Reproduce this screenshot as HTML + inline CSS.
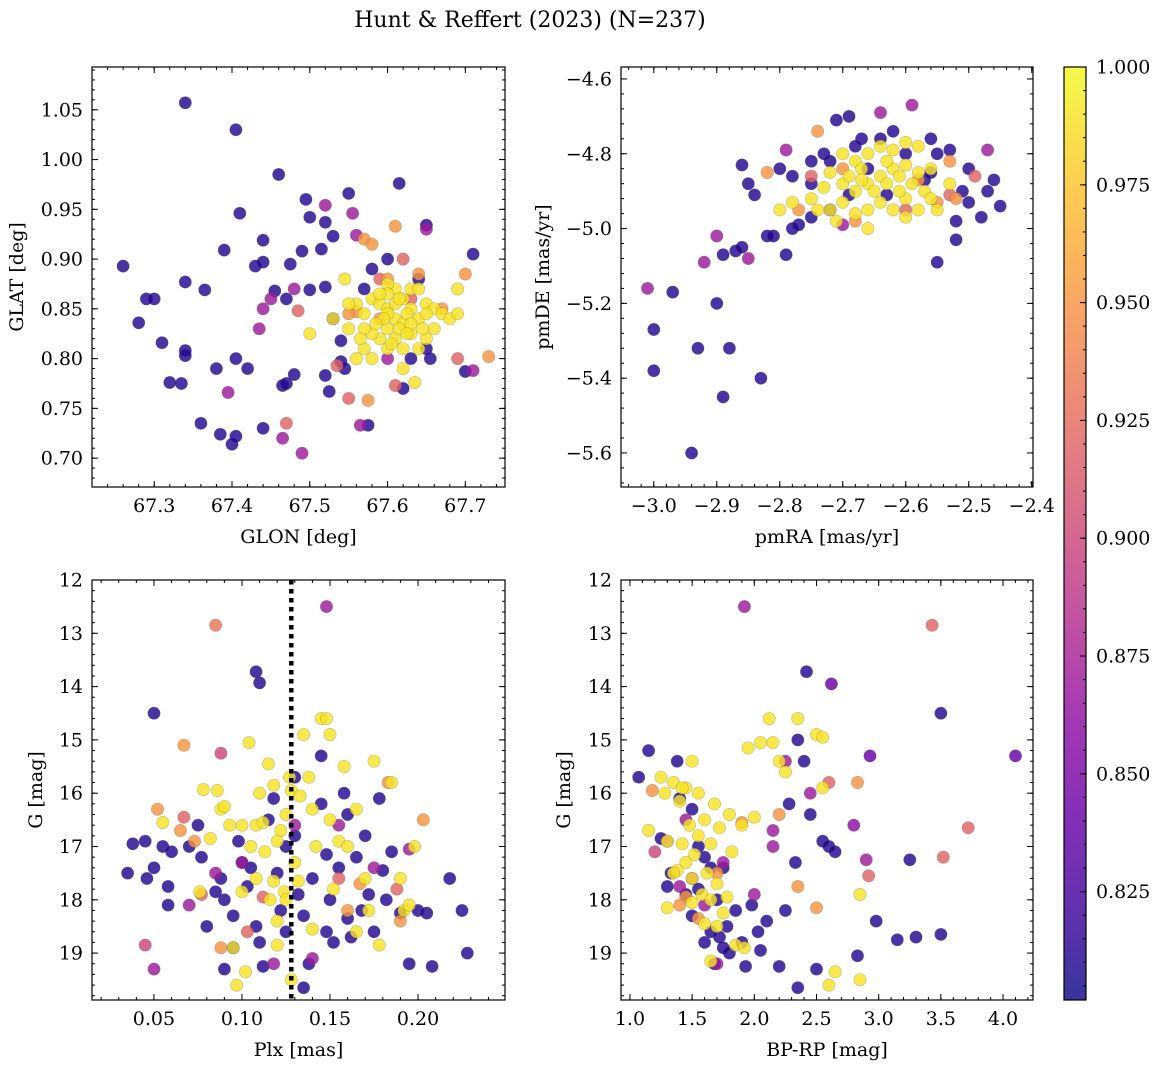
<!DOCTYPE html>
<html><head><meta charset="utf-8"><style>
html,body{margin:0;padding:0;background:#fff;}
svg{display:block;font-family:"DejaVu Serif","Liberation Serif",serif;}
</style></head><body>
<svg id="fig" width="1161" height="1067" viewBox="0 0 1161 1067">
<text x="530" y="27" text-anchor="middle" font-size="22">Hunt &amp; Reffert (2023) (N=237)</text>
</svg>
<script>
// ---- data: [x, y, membership probability] ----
const glonGlat = [
[67.26,0.893,.81],[67.28,0.836,.81],[67.29,0.86,.81],[67.30,0.86,.81],[67.31,0.816,.81],[67.32,0.776,.81],[67.34,1.057,.81],[67.335,0.775,.81],[67.34,0.803,.81],[67.34,0.808,.81],[67.34,0.877,.81],[67.365,0.869,.81],[67.36,0.735,.81],[67.38,0.79,.81],[67.385,0.724,.81],[67.39,0.909,.81],[67.40,0.714,.81],[67.405,1.03,.81],[67.405,0.80,.81],[67.405,0.722,.81],[67.41,0.946,.81],[67.42,0.79,.81],[67.43,0.893,.81],[67.44,0.919,.81],[67.44,0.897,.81],[67.44,0.73,.81],[67.455,0.868,.81],[67.46,0.985,.81],[67.465,0.773,.81],[67.47,0.86,.81],[67.47,0.775,.81],[67.475,0.895,.81],[67.48,0.784,.81],[67.49,0.908,.81],[67.495,0.96,.81],[67.50,0.942,.81],[67.50,0.869,.81],[67.52,0.937,.81],[67.515,0.91,.81],[67.52,0.872,.81],[67.52,0.783,.81],[67.525,0.767,.81],[67.53,0.923,.81],[67.53,0.84,.81],[67.54,0.797,.81],[67.54,0.818,.81],[67.545,0.79,.81],[67.55,0.966,.81],[67.575,0.733,.81],[67.615,0.976,.81],[67.62,0.77,.81],[67.64,0.88,.81],[67.65,0.934,.81],[67.65,0.81,.81],[67.70,0.787,.81],[67.71,0.905,.81],[67.655,0.80,.81],[67.58,0.89,.81],[67.6,0.9,.81],[67.63,0.8,.81],[67.57,0.87,.81],
[67.395,0.766,.87],[67.435,0.83,.87],[67.44,0.85,.87],[67.45,0.86,.87],[67.465,0.72,.87],[67.48,0.87,.87],[67.49,0.705,.87],[67.52,0.954,.87],[67.555,0.946,.87],[67.56,0.924,.87],[67.565,0.733,.87],[67.65,0.93,.87],[67.71,0.788,.87],[67.6,0.8,.87],
[67.61,0.773,.92],[67.69,0.80,.92],[67.47,0.735,.92],[67.485,0.848,.92],[67.535,0.793,.92],[67.55,0.76,.92],[67.59,0.88,.92],[67.62,0.9,.92],[67.63,0.86,.92],
[67.57,0.92,.95],[67.61,0.933,.95],[67.56,0.847,.95],[67.575,0.758,.95],[67.70,0.885,.95],[67.73,0.802,.95],[67.58,0.915,.95],[67.6,0.88,.95],[67.64,0.885,.95],[67.67,0.85,.95],[67.59,0.84,.95],[67.55,0.845,.95],
[67.58,0.86,.99],[67.59,0.855,.99],[67.60,0.85,.99],[67.61,0.84,.99],[67.62,0.835,.99],[67.60,0.83,.99],[67.59,0.82,.99],[67.61,0.82,.99],[67.62,0.81,.99],[67.63,0.825,.99],[67.64,0.84,.99],[67.63,0.85,.99],[67.62,0.86,.99],[67.61,0.87,.99],[67.60,0.875,.99],[67.63,0.87,.99],[67.65,0.855,.99],[67.66,0.85,.99],[67.67,0.845,.99],[67.68,0.84,.99],[67.69,0.845,.99],[67.66,0.83,.99],[67.65,0.82,.99],[67.64,0.81,.99],[67.57,0.845,.99],[67.56,0.855,.99],[67.55,0.83,.99],[67.57,0.81,.99],[67.58,0.80,.99],[67.60,0.81,.99],[67.62,0.79,.99],[67.58,0.825,.99],[67.56,0.8,.99],[67.53,0.84,.99],[67.50,0.825,.99],[67.545,0.88,.99],[67.55,0.855,.99],[67.64,0.87,.99],[67.69,0.87,.99],[67.635,0.776,.99],[67.6,0.845,.99],[67.61,0.855,.99],[67.625,0.845,.99],[67.595,0.84,.99],[67.615,0.83,.99],[67.645,0.83,.99],[67.57,0.83,.99],[67.60,0.865,.99],[67.63,0.835,.99],[67.65,0.845,.99],[67.585,0.835,.99],[67.605,0.815,.99],[67.625,0.825,.99],[67.59,0.865,.99],[67.615,0.86,.99],[67.565,0.82,.99]
];
const pmraPmde = [
[-3.0,-5.38,.81],[-3.0,-5.27,.81],[-2.97,-5.17,.81],[-2.94,-5.6,.81],[-2.93,-5.32,.81],[-2.90,-5.2,.81],[-2.89,-5.45,.81],[-2.88,-5.32,.81],[-2.89,-5.07,.81],[-2.87,-5.06,.81],[-2.86,-5.05,.81],[-2.83,-5.40,.81],[-2.82,-5.02,.81],[-2.81,-5.02,.81],[-2.78,-5.0,.81],[-2.77,-4.99,.81],[-2.79,-5.07,.81],[-2.86,-4.83,.81],[-2.85,-4.88,.81],[-2.84,-4.91,.81],[-2.8,-4.84,.81],[-2.78,-4.86,.81],[-2.75,-4.82,.81],[-2.73,-4.8,.81],[-2.71,-4.71,.81],[-2.69,-4.7,.81],[-2.67,-4.76,.81],[-2.56,-4.76,.81],[-2.53,-4.79,.81],[-2.5,-4.84,.81],[-2.46,-4.87,.81],[-2.45,-4.94,.81],[-2.47,-4.9,.81],[-2.51,-4.9,.81],[-2.52,-4.98,.81],[-2.52,-5.03,.81],[-2.55,-5.09,.81],[-2.56,-4.85,.81],[-2.72,-4.95,.81],[-2.75,-4.97,.81],[-2.72,-4.82,.81],[-2.66,-4.84,.81],[-2.6,-4.8,.81],[-2.55,-4.8,.81],[-2.57,-4.87,.81],[-2.63,-4.91,.81],[-2.69,-4.91,.81],[-2.75,-4.88,.81],[-2.5,-4.93,.81],[-2.48,-4.97,.81],[-2.64,-4.76,.81],[-2.68,-4.78,.81],[-2.62,-4.74,.81],
[-3.01,-5.16,.87],[-2.92,-5.09,.87],[-2.9,-5.02,.87],[-2.85,-5.08,.87],[-2.79,-4.79,.87],[-2.64,-4.69,.87],[-2.59,-4.67,.87],[-2.47,-4.79,.87],[-2.49,-4.86,.92],[-2.7,-4.99,.87],[-2.75,-4.86,.92],[-2.53,-4.91,.92],[-2.6,-4.95,.92],
[-2.82,-4.85,.95],[-2.74,-4.74,.95],[-2.53,-4.82,.95],[-2.77,-4.95,.95],[-2.68,-4.98,.95],[-2.52,-4.92,.95],[-2.55,-4.93,.95],[-2.7,-4.84,.95],[-2.58,-4.87,.95],
[-2.72,-4.85,.99],[-2.7,-4.88,.99],[-2.68,-4.9,.99],[-2.66,-4.88,.99],[-2.64,-4.86,.99],[-2.62,-4.84,.99],[-2.6,-4.83,.99],[-2.58,-4.85,.99],[-2.56,-4.84,.99],[-2.57,-4.9,.99],[-2.6,-4.92,.99],[-2.62,-4.95,.99],[-2.64,-4.93,.99],[-2.66,-4.95,.99],[-2.68,-4.96,.99],[-2.7,-4.93,.99],[-2.72,-4.95,.99],[-2.74,-4.95,.99],[-2.66,-4.8,.99],[-2.64,-4.78,.99],[-2.62,-4.79,.99],[-2.6,-4.77,.99],[-2.58,-4.78,.99],[-2.68,-4.82,.99],[-2.7,-4.8,.99],[-2.66,-5.0,.99],[-2.6,-4.97,.99],[-2.58,-4.95,.99],[-2.56,-4.92,.99],[-2.55,-4.95,.99],[-2.65,-4.9,.99],[-2.63,-4.88,.99],[-2.61,-4.9,.99],[-2.69,-4.86,.99],[-2.67,-4.84,.99],[-2.73,-4.89,.99],[-2.75,-4.92,.99],[-2.78,-4.93,.99],[-2.8,-4.95,.99],[-2.53,-4.88,.99],[-2.59,-4.88,.99],[-2.71,-4.98,.99],[-2.63,-4.82,.99],[-2.61,-4.86,.99],[-2.67,-4.87,.99]
];
const plxG = [
[0.035,17.5,.81],[0.038,16.95,.81],[0.045,16.9,.81],[0.046,17.6,.81],[0.05,14.5,.81],[0.05,17.4,.81],[0.055,17.0,.81],[0.058,17.75,.81],[0.058,18.1,.81],[0.06,17.1,.81],[0.07,17.0,.81],[0.075,16.6,.81],[0.077,17.2,.81],[0.08,18.5,.81],[0.085,17.85,.81],[0.088,17.6,.81],[0.09,18.0,.81],[0.095,18.3,.81],[0.095,18.9,.81],[0.098,16.9,.81],[0.10,17.3,.81],[0.103,17.75,.81],[0.105,17.4,.81],[0.108,13.72,.81],[0.11,13.93,.81],[0.11,18.8,.81],[0.108,18.5,.81],[0.112,19.25,.81],[0.115,16.5,.81],[0.12,17.5,.81],[0.122,18.2,.81],[0.125,18.6,.81],[0.13,16.8,.81],[0.132,17.9,.81],[0.135,18.3,.81],[0.138,19.2,.81],[0.14,17.6,.81],[0.145,16.2,.81],[0.148,17.15,.81],[0.15,18.0,.81],[0.152,18.8,.81],[0.155,17.4,.81],[0.158,16.0,.81],[0.16,18.35,.81],[0.16,16.4,.81],[0.162,18.7,.81],[0.165,17.2,.81],[0.168,18.2,.81],[0.17,16.8,.81],[0.172,17.9,.81],[0.175,18.6,.81],[0.178,16.1,.81],[0.18,17.45,.81],[0.182,18.0,.81],[0.185,17.1,.81],[0.19,18.25,.81],[0.195,19.2,.81],[0.2,18.2,.81],[0.205,18.25,.81],[0.208,19.25,.81],[0.218,17.6,.81],[0.225,18.2,.81],[0.228,19.0,.81],[0.135,19.65,.81],[0.148,18.6,.81],[0.125,17.0,.81],[0.09,19.3,.81],[0.145,15.3,.81],[0.13,15.7,.81],[0.118,16.1,.81],
[0.045,18.85,.9],[0.05,19.3,.87],[0.067,16.45,.92],[0.077,17.9,.92],[0.085,17.5,.87],[0.088,15.25,.9],[0.103,18.6,.92],[0.112,17.95,.92],[0.118,19.2,.87],[0.14,19.1,.87],[0.148,12.5,.87],[0.155,16.6,.87],[0.155,17.6,.92],[0.175,17.4,.87],[0.188,17.8,.92],[0.195,17.05,.87],[0.1,17.3,.87],[0.07,18.1,.87],[0.13,16.6,.87],
[0.052,16.3,.95],[0.065,16.7,.95],[0.067,15.1,.95],[0.085,12.85,.93],[0.088,18.9,.95],[0.16,18.2,.95],[0.167,17.7,.95],[0.183,15.8,.95],[0.203,16.5,.95],[0.19,18.4,.95],[0.073,16.9,.95],
[0.055,16.55,.99],[0.076,17.85,.99],[0.078,15.93,.99],[0.082,16.85,.99],[0.086,15.95,.99],[0.088,16.3,.99],[0.09,16.25,.99],[0.093,16.6,.99],[0.095,18.9,.99],[0.097,19.6,.99],[0.1,16.6,.99],[0.1,17.85,.99],[0.102,19.35,.99],[0.104,15.05,.99],[0.105,17.0,.99],[0.108,16.6,.99],[0.11,16.0,.99],[0.112,16.55,.99],[0.113,17.1,.99],[0.115,15.45,.99],[0.116,18.0,.99],[0.118,17.65,.99],[0.118,15.85,.99],[0.12,18.4,.99],[0.12,18.85,.99],[0.122,16.7,.99],[0.124,17.85,.99],[0.125,18.0,.99],[0.125,16.4,.99],[0.127,15.7,.99],[0.128,15.95,.99],[0.128,19.5,.99],[0.13,17.3,.99],[0.132,17.65,.99],[0.133,16.05,.99],[0.135,14.9,.99],[0.138,15.7,.99],[0.14,16.3,.99],[0.142,17.0,.99],[0.145,14.6,.99],[0.148,14.6,.99],[0.15,14.9,.99],[0.15,16.5,.99],[0.152,17.8,.99],[0.155,16.9,.99],[0.158,15.5,.99],[0.16,17.0,.99],[0.165,16.3,.99],[0.17,17.6,.99],[0.172,18.2,.99],[0.175,15.4,.99],[0.178,18.85,.99],[0.185,15.8,.99],[0.19,17.6,.99],[0.192,18.2,.99],[0.195,18.1,.99],[0.198,17.0,.99],[0.165,18.6,.99],[0.14,18.55,.99],[0.108,17.6,.99],[0.12,16.9,.99]
];
const bprpG = [
[1.07,15.7,.81],[1.15,15.2,.81],[1.25,16.85,.81],[1.3,17.75,.81],[1.33,17.5,.81],[1.38,15.4,.81],[1.4,16.1,.81],[1.45,17.9,.81],[1.5,18.3,.81],[1.55,17.0,.81],[1.6,18.8,.81],[1.65,18.6,.81],[1.68,19.2,.81],[1.7,18.0,.81],[1.72,18.7,.81],[1.75,17.4,.81],[1.78,18.5,.81],[1.8,19.0,.81],[1.85,18.2,.81],[1.9,18.8,.81],[1.93,19.25,.81],[1.98,18.1,.81],[2.03,18.6,.81],[2.05,18.95,.81],[2.1,18.4,.81],[2.2,19.25,.81],[2.25,18.2,.81],[2.28,16.2,.81],[2.33,17.3,.81],[2.35,15.0,.81],[2.4,15.4,.81],[2.42,13.72,.81],[2.45,16.4,.81],[2.5,19.3,.81],[2.55,16.9,.81],[2.6,17.0,.81],[2.62,13.95,.84],[2.65,17.1,.81],[2.83,19.05,.81],[2.93,15.3,.84],[2.98,18.4,.81],[3.15,18.75,.81],[3.25,17.25,.81],[3.3,18.7,.81],[3.5,18.65,.81],[3.5,14.5,.81],[4.1,15.3,.84],[2.35,19.65,.81],[1.6,17.2,.81],[1.55,17.8,.81],[1.5,16.3,.81],[1.65,17.4,.81],[1.75,18.9,.81],[2.8,16.6,.86],
[1.2,17.1,.9],[1.3,16.9,.87],[1.45,16.5,.87],[1.5,17.6,.87],[1.6,18.1,.87],[1.7,19.2,.87],[1.75,17.3,.87],[1.92,12.5,.87],[2.0,17.9,.87],[2.15,16.7,.87],[2.25,15.4,.87],[2.45,16.0,.87],[2.9,17.25,.87],[2.92,17.55,.92],[3.43,12.85,.92],[3.52,17.2,.92],[3.72,16.65,.92],[2.6,15.8,.92],[2.15,17.0,.87],[1.4,17.75,.87],
[1.18,15.95,.95],[1.45,17.95,.95],[1.55,18.35,.95],[1.7,17.5,.95],[1.9,16.55,.95],[2.35,17.75,.95],[2.83,15.8,.95],[2.5,18.15,.95],[1.4,18.1,.95],[2.2,16.4,.95],
[1.15,16.7,.99],[1.25,15.7,.99],[1.28,16.0,.99],[1.3,16.9,.99],[1.3,18.15,.99],[1.35,15.8,.99],[1.4,16.15,.99],[1.42,16.95,.99],[1.45,15.9,.99],[1.45,17.3,.99],[1.48,16.6,.99],[1.5,15.4,.99],[1.5,17.6,.99],[1.52,17.15,.99],[1.55,16.0,.99],[1.55,16.8,.99],[1.58,17.9,.99],[1.6,16.5,.99],[1.6,18.45,.99],[1.62,17.5,.99],[1.65,16.95,.99],[1.65,18.0,.99],[1.68,16.2,.99],[1.7,17.7,.99],[1.72,16.65,.99],[1.75,18.25,.99],[1.78,17.95,.99],[1.8,16.4,.99],[1.82,17.1,.99],[1.85,18.85,.99],[1.9,16.6,.99],[1.92,18.9,.99],[1.95,15.15,.99],[2.0,16.45,.99],[2.05,15.05,.99],[2.12,14.6,.99],[2.15,15.05,.99],[2.2,15.4,.99],[2.25,15.6,.99],[2.35,14.6,.99],[2.5,14.9,.99],[2.55,14.95,.99],[2.55,15.9,.99],[2.65,19.35,.99],[2.6,19.6,.99],[2.85,17.9,.99],[2.85,19.5,.99],[1.38,17.45,.99],[1.7,18.5,.99],[1.5,18.05,.99],[1.65,19.15,.99],[1.42,15.9,.99],[1.35,17.5,.99]
];
const plxCut = 0.128;
const glonTicks = [67.3,67.4,67.5,67.6,67.7];
const glatTicks = [0.70,0.75,0.80,0.85,0.90,0.95,1.00,1.05];
const pmraTicks = [-3.0,-2.9,-2.8,-2.7,-2.6,-2.5,-2.4];
const pmdeTicks = [-5.6,-5.4,-5.2,-5.0,-4.8,-4.6];
const plxTicks = [0.05,0.10,0.15,0.20];
const gTicks = [12,13,14,15,16,17,18,19];
const bprpTicks = [1.0,1.5,2.0,2.5,3.0,3.5,4.0];
const cbarTicks = [0.825,0.850,0.875,0.900,0.925,0.950,0.975,1.000];

const NS='http://www.w3.org/2000/svg';
const svg=document.getElementById('fig');
const TF=19;
function mk(tag,attrs,parent){const e=document.createElementNS(NS,tag);for(const k in attrs)e.setAttribute(k,attrs[k]);(parent||svg).appendChild(e);return e;}
const plasma=['#0d0887','#41049d','#6a00a8','#8f0da4','#b12a90','#cc4778','#e16462','#f2844b','#fca636','#fcce25','#f0f921'];
function hex(h){return [parseInt(h.slice(1,3),16),parseInt(h.slice(3,5),16),parseInt(h.slice(5,7),16)];}
function cmap(t){t=Math.max(0,Math.min(1,t));const f=t*10,i=Math.min(9,Math.floor(f)),r=f-i;const a=hex(plasma[i]),b=hex(plasma[i+1]);return 'rgb('+a.map((v,k)=>Math.round(v+(b[k]-v)*r)).join(',')+')';}
const PMIN=0.802,PMAX=1.0;
const fmt=(v,d)=>(v<0?'\u2212':'')+Math.abs(v).toFixed(d);

function panel(o){
  const g=mk('g',{});
  
  
  const sx=v=>o.x0+(v-o.xmin)/(o.xmax-o.xmin)*(o.x1-o.x0);
  const sy=o.yinv? v=>o.y0+(v-o.ymin)/(o.ymax-o.ymin)*(o.y1-o.y0) : v=>o.y1-(v-o.ymin)/(o.ymax-o.ymin)*(o.y1-o.y0);
  const cid='clip-'+o.name;
  const cp=mk('clipPath',{id:cid},g);mk('rect',{x:o.x0,y:o.y0,width:o.x1-o.x0,height:o.y1-o.y0},cp);
  const pg=mk('g',{'clip-path':'url(#'+cid+')'},g);
  const pts=o.data.slice().sort((a,b)=>a[2]-b[2]);
  pts.forEach(d=>{
    const c=mk('circle',{cx:sx(d[0]).toFixed(1),cy:sy(d[1]).toFixed(1),r:6.2,fill:cmap((d[2]-PMIN)/(PMAX-PMIN)),'fill-opacity':0.82,stroke:'#555','stroke-opacity':0.35,'stroke-width':0.6},pg);
    
    
  });
  if(o.vline!==undefined){
    const l=mk('line',{x1:sx(o.vline),x2:sx(o.vline),y1:o.y0,y2:o.y1,stroke:'#000','stroke-width':4.5,'stroke-dasharray':'4.5,4.5'},pg);
    
    
  }
  const fr=mk('rect',{x:o.x0,y:o.y0,width:o.x1-o.x0,height:o.y1-o.y0,fill:'none',stroke:'#000','stroke-width':1.2},g);
  
  
  for(let v=Math.ceil(o.xmin/o.xminor)*o.xminor;v<=o.xmax;v+=o.xminor){const X=sx(v);mk('line',{x1:X,x2:X,y1:o.y1,y2:o.y1-3,stroke:'#000'},g);mk('line',{x1:X,x2:X,y1:o.y0,y2:o.y0+3,stroke:'#000'},g);}
  for(let v=Math.ceil(o.ymin/o.yminor)*o.yminor;v<=o.ymax;v+=o.yminor){const Y=sy(v);mk('line',{x1:o.x0,x2:o.x0+3,y1:Y,y2:Y,stroke:'#000'},g);mk('line',{x1:o.x1,x2:o.x1-3,y1:Y,y2:Y,stroke:'#000'},g);}
  o.xt.forEach(v=>{const X=sx(v);mk('line',{x1:X,x2:X,y1:o.y1,y2:o.y1-6,stroke:'#000'},g);mk('line',{x1:X,x2:X,y1:o.y0,y2:o.y0+6,stroke:'#000'},g);
    const t=mk('text',{x:X,y:o.y1+25,'text-anchor':'middle','font-size':TF},g);t.textContent=fmt(v,o.xd);
    
    });
  o.yt.forEach(v=>{const Y=sy(v);mk('line',{x1:o.x0,x2:o.x0+6,y1:Y,y2:Y,stroke:'#000'},g);mk('line',{x1:o.x1,x2:o.x1-6,y1:Y,y2:Y,stroke:'#000'},g);
    const t=mk('text',{x:o.x0-9,y:Y+6.5,'text-anchor':'end','font-size':TF},g);t.textContent=fmt(v,o.yd);
    
    });
  const xl=mk('text',{x:(o.x0+o.x1)/2,y:o.y1+56,'text-anchor':'middle','font-size':TF},g);xl.textContent=o.xlabel;
  
  
  const yx=o.ylx, yy=(o.y0+o.y1)/2;
  const yl=mk('text',{x:yx,y:yy,'text-anchor':'middle','font-size':TF,transform:'rotate(-90 '+yx+' '+yy+')'},g);yl.textContent=o.ylabel;
  
  
}
panel({name:'glon-glat-panel',data:glonGlat,x0:92,x1:505,y0:67,y1:487,xmin:67.220,xmax:67.751,ymin:0.671,ymax:1.093,xt:glonTicks,yt:glatTicks,xd:1,yd:2,xminor:0.02,yminor:0.01,xlabel:'GLON [deg]',ylabel:'GLAT [deg]',ylx:23});
panel({name:'proper-motion-panel',data:pmraPmde,x0:621,x1:1033,y0:67,y1:487,xmin:-3.052,xmax:-2.398,ymin:-5.691,ymax:-4.568,xt:pmraTicks,yt:pmdeTicks,xd:1,yd:1,xminor:0.02,yminor:0.04,xlabel:'pmRA [mas/yr]',ylabel:'pmDE [mas/yr]',ylx:549});
panel({name:'plx-g-panel',data:plxG,x0:92,x1:505,y0:580,y1:1000,xmin:0.0148,xmax:0.2494,ymin:12,ymax:19.88,yinv:true,xt:plxTicks,yt:gTicks,xd:2,yd:0,xminor:0.01,yminor:0.2,xlabel:'Plx [mas]',ylabel:'G [mag]',ylx:42,vline:plxCut});
panel({name:'cmd-panel',data:bprpG,x0:621,x1:1033,y0:580,y1:1000,xmin:0.928,xmax:4.241,ymin:12,ymax:19.88,yinv:true,xt:bprpTicks,yt:gTicks,xd:1,yd:0,xminor:0.1,yminor:0.2,xlabel:'BP-RP [mag]',ylabel:'G [mag]',ylx:570});

(function(){
  const g=mk('g',{});
  
  
  const cx0=1064,cx1=1086,cy0=67,cy1=1000;
  const gr=mk('linearGradient',{id:'cbg',x1:0,y1:1,x2:0,y2:0},mk('defs',{},g));
  for(let i=0;i<=20;i++){mk('stop',{offset:i/20,'stop-color':cmap(i/20),'stop-opacity':0.82},gr);}
  mk('rect',{x:cx0,y:cy0,width:cx1-cx0,height:cy1-cy0,fill:'url(#cbg)',stroke:'#000','stroke-width':1.2},g);
  const sy=v=>cy1-(v-PMIN)/(PMAX-PMIN)*(cy1-cy0);
  for(let v=0.805;v<=1.0001;v+=0.005){const Y=sy(v);mk('line',{x1:cx1,x2:cx1-3,y1:Y,y2:Y,stroke:'#000'},g);}
  cbarTicks.forEach(v=>{const Y=sy(v);mk('line',{x1:cx1,x2:cx1-6,y1:Y,y2:Y,stroke:'#000'},g);
    const t=mk('text',{x:cx1+10,y:Y+6.5,'font-size':TF},g);t.textContent=v.toFixed(3);
    
    });
})();
</script>
</body></html>
